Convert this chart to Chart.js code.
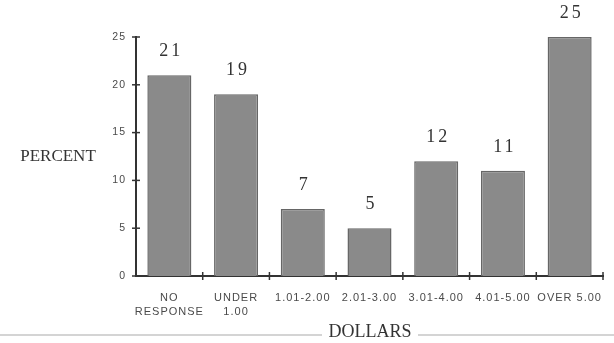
<!DOCTYPE html>
<html>
<head>
<meta charset="utf-8">
<script src="https://cdn.jsdelivr.net/npm/chart.js@4/dist/chart.umd.min.js"></script>
<style>
  html, body { margin: 0; padding: 0; background: #fff; }
  #wrap { width: 614px; height: 343px; }
</style>
</head>
<body>
<div id="wrap"><canvas id="myChart" width="614" height="343"></canvas></div>
<script>
var categories = [['NO', 'RESPONSE'], ['UNDER', '1.00'], '1.01-2.00', '2.01-3.00', '3.01-4.00', '4.01-5.00', 'OVER 5.00']
var percents = [21, 19, 7, 5, 12, 11, 25]
var yTicks = [0, 5, 10, 15, 20, 25]
var yTitle = 'PERCENT'
var xTitle = 'DOLLARS'

var serif = '"Liberation Serif", "Times New Roman", serif'
var sans = '"Liberation Sans", Arial, sans-serif'

// labels above bars, axis titles, cross ticks
var extras = {
	id: 'extras',
	beforeDraw: function(chart) {
		chart.ctx.letterSpacing = '1px'
	},
	afterDraw: function(chart) {
		var ctx = chart.ctx
		var x = chart.scales.x
		var y = chart.scales.y
		var area = chart.chartArea
		ctx.save()

		// cross ticks on y axis
		ctx.strokeStyle = '#333'
		ctx.lineWidth = 1.5
		yTicks.forEach(function(v) {
			var py = y.getPixelForValue(v)
			ctx.beginPath()
			ctx.moveTo(area.left - 4, py)
			ctx.lineTo(area.left + 4, py)
			ctx.stroke()
		})
		// cross ticks on x axis at category boundaries
		for (var i = 1; i <= categories.length; i++) {
			var px = i < categories.length ? (x.getPixelForValue(i - 1) + x.getPixelForValue(i)) / 2 : area.right
			ctx.beginPath()
			ctx.moveTo(px, area.bottom - 4)
			ctx.lineTo(px, area.bottom + 4)
			ctx.stroke()
		}

		// value labels
		ctx.letterSpacing = '3px'
		ctx.fillStyle = '#333'
		ctx.font = '18px ' + serif
		ctx.textAlign = 'center'
		ctx.textBaseline = 'middle'
		var meta = chart.getDatasetMeta(0)
		meta.data.forEach(function(bar, idx) {
			ctx.fillText(String(percents[idx]), bar.x + 2, bar.y - 24)
		})

		// axis titles
		ctx.letterSpacing = '0px'
		ctx.font = '17px ' + serif
		ctx.fillText(yTitle, 58, 157)
		ctx.font = '18px ' + serif
		ctx.fillText(xTitle, 370, 332)

		// faint rule under the chart
		ctx.strokeStyle = '#d4d4d4'
		ctx.lineWidth = 2
		ctx.beginPath()
		ctx.moveTo(0, 335)
		ctx.lineTo(322, 335)
		ctx.moveTo(418, 335)
		ctx.lineTo(chart.width, 335)
		ctx.stroke()
		ctx.restore()
	}
}

var ctx = document.getElementById('myChart').getContext('2d')
var chart = new Chart(ctx, {
	type: 'bar',
	data: {
		labels: categories,
		datasets: [{
			data: percents,
			backgroundColor: '#8a8a8a',
			borderColor: '#666',
			borderWidth: 1.5,
			barPercentage: 0.66,
			categoryPercentage: 1
		}]
	},
	options: {
		responsive: false,
		animation: false,
		layout: { padding: { top: 37, right: 11, left: 0, bottom: 0 } },
		plugins: { legend: { display: false }, tooltip: { enabled: false } },
		scales: {
			x: {
				grid: { display: false, drawTicks: false },
				border: { color: '#333', width: 2 },
				ticks: {
					color: '#4a4a4a',
					font: { family: sans, size: 11, lineHeight: 1.3 },
					padding: 15,
					maxRotation: 0,
					autoSkip: false
				},
				afterFit: function(scale) { scale.height = 67 }
			},
			y: {
				min: 0,
				max: 25,
				grid: { display: false, drawTicks: false },
				border: { color: '#333', width: 2 },
				afterBuildTicks: function(scale) {
					scale.ticks = yTicks.map(function(v) { return { value: v } })
				},
				ticks: {
					color: '#4a4a4a',
					font: { family: sans, size: 10.5 },
					padding: 10
				},
				afterFit: function(scale) { scale.width = 136 }
			}
		}
	},
	plugins: [extras]
})
</script>
</body>
</html>
